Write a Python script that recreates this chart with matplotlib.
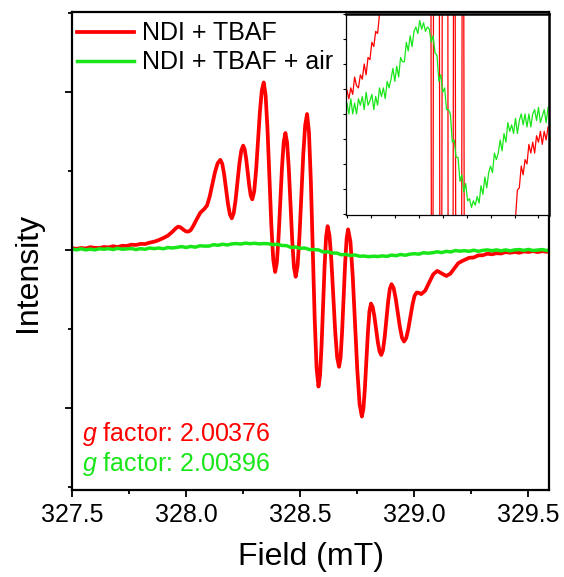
import numpy as np
import matplotlib
matplotlib.use("Agg")
import matplotlib.pyplot as plt
from matplotlib.ticker import MultipleLocator, NullFormatter

plt.rcParams['font.family'] = ['Liberation Sans', 'DejaVu Sans']
plt.rcParams['mathtext.fontset'] = 'custom'
plt.rcParams['mathtext.rm'] = 'Liberation Sans'
plt.rcParams['mathtext.it'] = 'Liberation Sans:italic'

# NDI + TBAF  (field in mT, intensity in arb. units)
red_x = [327.50, 327.52, 327.54, 327.56, 327.58, 327.60, 327.62, 327.64, 327.66, 327.68,
         327.70, 327.72, 327.74, 327.76, 327.78, 327.80, 327.82, 327.84, 327.86,
         327.88, 327.90, 327.92, 327.94, 327.955, 327.965, 327.975, 327.99, 328.00, 328.01,
         328.02, 328.03, 328.045, 328.062, 328.08,
         328.0917, 328.1033, 328.115, 328.1267, 328.1383, 328.15,
         328.1583, 328.1667, 328.175, 328.1833, 328.1917, 328.20,
         328.2083, 328.2167, 328.225, 328.2333, 328.2417, 328.25,
         328.2567, 328.2633, 328.27, 328.2767, 328.2833, 328.29,
         328.2983, 328.3067, 328.315, 328.3233, 328.3317, 328.34,
         328.3483, 328.3567, 328.365, 328.3733, 328.3817, 328.39,
         328.3975, 328.405, 328.4125, 328.42, 328.4275, 328.435,
         328.4425, 328.45, 328.4575, 328.465, 328.4725, 328.48,
         328.4883, 328.4967, 328.505, 328.5133, 328.5217, 328.53,
         328.5383, 328.5467, 328.555, 328.5633, 328.5717, 328.58,
         328.5867, 328.5933, 328.60, 328.6067, 328.6133, 328.62,
         328.6283, 328.6367, 328.645, 328.6533, 328.6617, 328.67,
         328.6767, 328.6833, 328.69, 328.6967, 328.7033, 328.71,
         328.72, 328.73, 328.74, 328.75, 328.76, 328.77,
         328.7767, 328.7833, 328.79, 328.7967, 328.8033, 328.81,
         328.8175, 328.825, 328.8325, 328.84, 328.8475, 328.855,
         328.8625, 328.87, 328.8775, 328.885, 328.8925, 328.90,
         328.9092, 328.9183, 328.9275, 328.9367, 328.9458, 328.955,
         328.9642, 328.9733, 328.9825, 328.9917, 329.0008, 329.01,
         329.02, 329.03, 329.0475, 329.065, 329.0825, 329.10, 329.12, 329.14,
         329.1575, 329.175, 329.1925, 329.21, 329.225,
         329.24, 329.26, 329.28, 329.30, 329.32, 329.34, 329.36, 329.38, 329.40, 329.42,
         329.44, 329.46, 329.48, 329.50, 329.52, 329.54, 329.56, 329.58, 329.60]
red_y = [0.011, 0.007, 0.012, 0.009, 0.017, 0.013, 0.012, 0.018, 0.016, 0.023,
         0.018, 0.026, 0.025, 0.033, 0.031, 0.038, 0.037, 0.046, 0.052,
         0.062, 0.075, 0.090, 0.115, 0.137, 0.147, 0.143, 0.126, 0.117, 0.116,
         0.125, 0.148, 0.190, 0.235, 0.260,
         0.281, 0.338, 0.415, 0.493, 0.549, 0.570,
         0.545, 0.478, 0.385, 0.293, 0.225, 0.200,
         0.231, 0.315, 0.430, 0.545, 0.629, 0.660,
         0.637, 0.575, 0.490, 0.405, 0.343, 0.320,
         0.370, 0.505, 0.690, 0.875, 1.010, 1.060,
         0.980, 0.760, 0.460, 0.160, -0.060, -0.140,
         -0.081, 0.080, 0.300, 0.520, 0.681, 0.740,
         0.679, 0.513, 0.285, 0.058, -0.109, -0.170,
         -0.101, 0.088, 0.345, 0.603, 0.791, 0.860,
         0.744, 0.429, -0.003, -0.434, -0.749, -0.865,
         -0.797, -0.611, -0.358, -0.104, 0.082, 0.150,
         0.090, -0.073, -0.295, -0.518, -0.680, -0.740,
         -0.682, -0.523, -0.305, -0.088, 0.072, 0.130,
         0.051, -0.166, -0.463, -0.759, -0.976, -1.055,
         -1.007, -0.876, -0.698, -0.519, -0.388, -0.340,
         -0.362, -0.421, -0.503, -0.584, -0.643, -0.665,
         -0.635, -0.553, -0.441, -0.329, -0.247, -0.217,
         -0.241, -0.308, -0.399, -0.489, -0.556, -0.580,
         -0.559, -0.503, -0.425, -0.348, -0.291, -0.270,
         -0.272, -0.280, -0.258, -0.207, -0.155, -0.133, -0.149, -0.165,
         -0.151, -0.118, -0.084, -0.070, -0.060,
         -0.050, -0.048, -0.035, -0.034, -0.024, -0.028, -0.021, -0.023, -0.014, -0.018,
         -0.013, -0.018, -0.010, -0.013, -0.008, -0.014, -0.008, -0.012, -0.006]

# NDI + TBAF + air
green_x = [327.50, 327.52, 327.54, 327.56, 327.58, 327.60, 327.62, 327.64, 327.66, 327.68,
           327.70, 327.72, 327.74, 327.76, 327.78, 327.80, 327.82, 327.84, 327.86, 327.88,
           327.90, 327.92, 327.94, 327.96, 327.98, 328.00, 328.02, 328.04, 328.06, 328.08,
           328.10, 328.12, 328.14, 328.16, 328.18, 328.20, 328.22, 328.24, 328.26, 328.28,
           328.30, 328.32, 328.34, 328.36, 328.38, 328.40, 328.42, 328.44, 328.46, 328.48,
           328.50, 328.52, 328.54, 328.56, 328.58, 328.60, 328.62, 328.64, 328.66, 328.68,
           328.70, 328.72, 328.74, 328.76, 328.78, 328.80, 328.82, 328.84, 328.86, 328.88,
           328.90, 328.92, 328.94, 328.96, 328.98, 329.00, 329.02, 329.04, 329.06, 329.08,
           329.10, 329.12, 329.14, 329.16, 329.18, 329.20, 329.22, 329.24, 329.26, 329.28,
           329.30, 329.32, 329.34, 329.36, 329.38, 329.40, 329.42, 329.44, 329.46, 329.48,
           329.50, 329.52, 329.54, 329.56, 329.58, 329.60]
green_y = [0.005, 0.000, 0.007, 0.000, 0.005, 0.000, 0.007, 0.004, 0.008, 0.002,
           0.010, 0.004, 0.006, 0.009, 0.002, 0.008, 0.004, 0.012, 0.008, 0.012,
           0.007, 0.015, 0.012, 0.016, 0.021, 0.015, 0.022, 0.017, 0.026, 0.024,
           0.024, 0.033, 0.029, 0.036, 0.031, 0.038, 0.040, 0.037, 0.043, 0.039,
           0.042, 0.038, 0.040, 0.039, 0.033, 0.036, 0.028, 0.027, 0.015, 0.018,
           0.010, 0.012, 0.002, 0.002, 0.000, -0.013, -0.012, -0.020, -0.020, -0.031,
           -0.028, -0.036, -0.032, -0.040, -0.039, -0.043, -0.040, -0.042, -0.038, -0.041,
           -0.033, -0.037, -0.029, -0.034, -0.027, -0.024, -0.027, -0.018, -0.021, -0.018,
           -0.012, -0.017, -0.009, -0.013, -0.004, -0.008, -0.005, -0.009, -0.002, -0.009,
           -0.003, 0.000, -0.005, 0.000, -0.006, 0.000, -0.006, 0.000, 0.002, -0.003,
           0.003, -0.004, -0.001, 0.002, -0.004, 0.003]

labels = ['NDI + TBAF', 'NDI + TBAF + air']
g_red = '2.00376'
g_green = '2.00396'
c_red = '#ff0000'
c_green = '#19e619'

fig = plt.figure(figsize=(5.64, 5.77), dpi=100)
ax = fig.add_axes([72/564, 1-490/577, 477/564, 478/577])
ax.plot(red_x, red_y, color=c_red, lw=2.7, label=labels[0], solid_joinstyle='round')
ax.plot(green_x, green_y, color=c_green, lw=2.5, label=labels[1])
ax.set_xlim(327.5, 329.59)
ax.set_ylim(-1.52, 1.506)
ax.xaxis.set_major_locator(MultipleLocator(0.5))
ax.xaxis.set_minor_locator(MultipleLocator(0.25))
ax.yaxis.set_major_locator(MultipleLocator(1))
ax.yaxis.set_minor_locator(MultipleLocator(0.5))
ax.yaxis.set_major_formatter(NullFormatter())
ax.set_xticks([327.5, 328.0, 328.5, 329.0, 329.5])
ax.set_xticklabels(['327.5', '328.0', '328.5', '329.0', '329.5'])
ax.tick_params(which='major', length=5, width=1.3, labelsize=18, pad=4)
ax.tick_params(which='minor', length=3, width=1.3)
for s in ax.spines.values():
    s.set_linewidth(1.6)

ax.legend(loc='upper left', bbox_to_anchor=(-0.022, 1.012), frameon=False, fontsize=18,
          handlelength=2.3, handletextpad=0.3, labelspacing=0.2, borderaxespad=0.2)

ax.text(0.021, 0.117, r'$g$ factor: ' + g_red, color=c_red, fontsize=18,
        transform=ax.transAxes, va='center', ha='left')
ax.text(0.021, 0.054, r'$g$ factor: ' + g_green, color=c_green, fontsize=18,
        transform=ax.transAxes, va='center', ha='left')

fig.text(311.5/564, 1-557/577, 'Field (mT)', fontsize=23, ha='center', va='center')
fig.text(28/564, 1-272/577, 'Intensity', fontsize=23, ha='center', va='center', rotation=90)

# inset: same spectra, y zoomed onto the weak green signal
axin = fig.add_axes([346/564, 1-215/577, 203/564, 201/577])
axin.plot(red_x, red_y, color=c_red, lw=0.9)
axin.plot(green_x, green_y, color=c_green, lw=0.9)
axin.set_xlim(327.49, 329.61)
axin.set_ylim(-0.0465, 0.046)
axin.xaxis.set_major_locator(MultipleLocator(0.5))
axin.xaxis.set_minor_locator(MultipleLocator(0.25))
axin.yaxis.set_major_locator(MultipleLocator(0.0115))
axin.xaxis.set_major_formatter(NullFormatter())
axin.yaxis.set_major_formatter(NullFormatter())
axin.tick_params(which='both', length=2.5, width=0.8)
for k, s in axin.spines.items():
    s.set_linewidth(0.9 if k in ('left', 'bottom') else 1.8)

fig.savefig('out.png', dpi=100)
